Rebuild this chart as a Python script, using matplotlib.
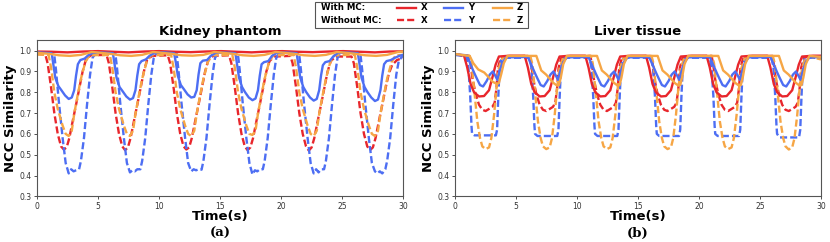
import matplotlib
matplotlib.use("Agg")
import matplotlib.pyplot as plt
from matplotlib.lines import Line2D
from matplotlib.patches import Rectangle

# ---------------- data: Kidney phantom ----------------
kid_x_mc_t = [0, 1.2, 2.5, 3.8, 5.0, 6.2, 7.5, 8.8, 10.0, 11.3, 12.6, 13.8, 15.1, 16.3, 17.6, 18.9,
              20.1, 21.3, 22.6, 23.9, 25.1, 26.4, 27.7, 28.9, 30.0]
kid_x_mc_y = [0.996, 0.995, 0.992, 0.996, 0.998, 0.995, 0.992, 0.996, 0.998, 0.995, 0.993, 0.996, 0.998,
              0.995, 0.992, 0.996, 0.998, 0.995, 0.993, 0.996, 0.998, 0.995, 0.992, 0.996, 0.997]

kid_z_mc_t = [0, 1.0, 1.8, 2.7, 3.6, 4.5,
              6.02, 6.82, 7.72, 8.62, 9.52,
              11.04, 11.84, 12.74, 13.64, 14.54,
              16.06, 16.86, 17.76, 18.66, 19.56,
              21.08, 21.88, 22.78, 23.68, 24.58,
              26.10, 26.90, 27.80, 28.70, 29.60, 30.0]
kid_z_mc_y = [0.99, 0.985, 0.978, 0.975, 0.98, 0.994,
              0.985, 0.978, 0.975, 0.98, 0.994,
              0.985, 0.978, 0.976, 0.98, 0.994,
              0.985, 0.978, 0.975, 0.98, 0.994,
              0.985, 0.978, 0.975, 0.98, 0.994,
              0.985, 0.978, 0.975, 0.98, 0.994, 0.996]

kid_y_mc_t = [0, 0.6, 1.2, 1.35, 1.5, 1.75, 2.0, 2.3, 2.6, 2.85, 3.05, 3.2, 3.35, 3.55, 3.9, 4.2, 4.6, 5.4,
              6.22, 6.37, 6.52, 6.77, 7.02, 7.32, 7.62, 7.87, 8.07, 8.22, 8.37, 8.57, 8.92, 9.22, 9.62, 10.42,
              11.24, 11.39, 11.54, 11.79, 12.04, 12.34, 12.64, 12.89, 13.09, 13.24, 13.39, 13.59, 13.94, 14.24, 14.64, 15.44,
              16.26, 16.41, 16.56, 16.81, 17.06, 17.36, 17.66, 17.91, 18.11, 18.26, 18.41, 18.61, 18.96, 19.26, 19.66, 20.46,
              21.28, 21.43, 21.58, 21.83, 22.08, 22.38, 22.68, 22.93, 23.13, 23.28, 23.43, 23.63, 23.98, 24.28, 24.68, 25.48,
              26.30, 26.45, 26.60, 26.85, 27.10, 27.40, 27.70, 27.95, 28.15, 28.30, 28.45, 28.65, 29.00, 29.30, 29.70, 30.0]
kid_y_mc_y = [0.992, 0.99, 0.988, 0.93, 0.87, 0.83, 0.81, 0.785, 0.768, 0.775, 0.81, 0.88, 0.935, 0.955, 0.962, 0.978, 0.99, 0.991,
              0.988, 0.93, 0.87, 0.825, 0.805, 0.78, 0.765, 0.772, 0.81, 0.88, 0.935, 0.95, 0.958, 0.975, 0.99, 0.992,
              0.988, 0.94, 0.88, 0.835, 0.815, 0.79, 0.775, 0.778, 0.81, 0.885, 0.94, 0.952, 0.955, 0.975, 0.99, 0.991,
              0.988, 0.93, 0.87, 0.825, 0.80, 0.775, 0.762, 0.77, 0.81, 0.88, 0.935, 0.945, 0.95, 0.975, 0.99, 0.991,
              0.988, 0.93, 0.87, 0.825, 0.80, 0.775, 0.76, 0.768, 0.81, 0.88, 0.93, 0.945, 0.95, 0.972, 0.99, 0.991,
              0.988, 0.93, 0.87, 0.825, 0.80, 0.775, 0.758, 0.765, 0.81, 0.88, 0.935, 0.95, 0.955, 0.965, 0.975, 0.98]

kid_x_nomc_t = [0, 0.68, 0.87, 1.15, 1.42, 1.7, 1.97, 2.2, 2.43, 2.65, 2.92, 3.2, 3.47, 3.74, 4.0, 4.4,
                5.70, 5.89, 6.17, 6.44, 6.72, 6.99, 7.22, 7.45, 7.67, 7.94, 8.22, 8.49, 8.76, 9.02, 9.42,
                10.72, 10.91, 11.19, 11.46, 11.74, 12.01, 12.24, 12.47, 12.69, 12.96, 13.24, 13.51, 13.78, 14.04, 14.44,
                15.74, 15.93, 16.21, 16.48, 16.76, 17.03, 17.26, 17.49, 17.71, 17.98, 18.26, 18.53, 18.80, 19.06, 19.46,
                20.76, 20.95, 21.23, 21.50, 21.78, 22.05, 22.28, 22.51, 22.73, 23.00, 23.28, 23.55, 23.82, 24.08, 24.48,
                25.78, 25.97, 26.25, 26.52, 26.80, 27.07, 27.30, 27.53, 27.75, 28.02, 28.30, 28.57, 28.84, 29.10, 29.50, 30.0]
kid_x_nomc_y = [0.984, 0.982, 0.94, 0.825, 0.70, 0.60, 0.54, 0.525, 0.535, 0.58, 0.66, 0.74, 0.82, 0.90, 0.955, 0.978,
                0.98, 0.94, 0.825, 0.70, 0.60, 0.54, 0.522, 0.535, 0.58, 0.66, 0.74, 0.82, 0.90, 0.955, 0.975,
                0.978, 0.94, 0.825, 0.70, 0.60, 0.54, 0.525, 0.535, 0.58, 0.66, 0.74, 0.82, 0.90, 0.955, 0.975,
                0.978, 0.94, 0.825, 0.70, 0.60, 0.54, 0.522, 0.535, 0.58, 0.66, 0.74, 0.82, 0.90, 0.95, 0.972,
                0.975, 0.94, 0.825, 0.70, 0.60, 0.54, 0.52, 0.535, 0.58, 0.66, 0.74, 0.82, 0.90, 0.95, 0.972,
                0.972, 0.94, 0.825, 0.70, 0.60, 0.54, 0.522, 0.535, 0.58, 0.66, 0.74, 0.82, 0.89, 0.93, 0.955, 0.965]

kid_y_nomc_t = [0, 0.7, 1.4, 1.55, 1.8, 2.1, 2.35, 2.6, 2.8, 3.0, 3.2, 3.45, 3.6, 3.85, 4.1, 4.35, 4.55, 4.8,
                6.42, 6.57, 6.82, 7.12, 7.37, 7.62, 7.82, 8.02, 8.22, 8.47, 8.62, 8.87, 9.12, 9.37, 9.57, 9.82,
                11.44, 11.59, 11.84, 12.14, 12.39, 12.64, 12.84, 13.04, 13.24, 13.49, 13.64, 13.89, 14.14, 14.39, 14.59, 14.84,
                16.46, 16.61, 16.86, 17.16, 17.41, 17.66, 17.86, 18.06, 18.26, 18.51, 18.66, 18.91, 19.16, 19.41, 19.61, 19.86,
                21.48, 21.63, 21.88, 22.18, 22.43, 22.68, 22.88, 23.08, 23.28, 23.53, 23.68, 23.93, 24.18, 24.43, 24.63, 24.88,
                26.50, 26.65, 26.90, 27.20, 27.45, 27.70, 27.90, 28.10, 28.30, 28.55, 28.70, 28.95, 29.20, 29.45, 29.65, 29.90, 30.0]
kid_y_nomc_y = [0.99, 0.99, 0.988, 0.91, 0.75, 0.58, 0.46, 0.41, 0.43, 0.42, 0.425, 0.43, 0.47, 0.58, 0.74, 0.885, 0.965, 0.99,
                0.988, 0.91, 0.75, 0.58, 0.46, 0.415, 0.425, 0.42, 0.43, 0.43, 0.47, 0.58, 0.74, 0.885, 0.965, 0.99,
                0.988, 0.91, 0.75, 0.58, 0.46, 0.42, 0.43, 0.425, 0.43, 0.428, 0.47, 0.58, 0.74, 0.885, 0.965, 0.99,
                0.988, 0.91, 0.75, 0.58, 0.46, 0.405, 0.425, 0.42, 0.43, 0.43, 0.47, 0.58, 0.74, 0.885, 0.965, 0.99,
                0.988, 0.91, 0.75, 0.58, 0.46, 0.41, 0.43, 0.415, 0.43, 0.43, 0.47, 0.58, 0.74, 0.885, 0.965, 0.99,
                0.988, 0.91, 0.75, 0.58, 0.46, 0.42, 0.41, 0.42, 0.41, 0.43, 0.47, 0.58, 0.74, 0.885, 0.95, 0.97, 0.975]

kid_z_nomc_t = [0, 0.95, 1.15, 1.42, 1.7, 2.1, 2.35, 2.6, 2.85, 3.06, 3.33, 3.6, 3.96, 4.3,
                5.97, 6.17, 6.44, 6.72, 7.12, 7.37, 7.62, 7.87, 8.08, 8.35, 8.62, 8.98, 9.32,
                10.99, 11.19, 11.46, 11.74, 12.14, 12.39, 12.64, 12.89, 13.10, 13.37, 13.64, 14.00, 14.34,
                16.01, 16.21, 16.48, 16.76, 17.16, 17.41, 17.66, 17.91, 18.12, 18.39, 18.66, 19.02, 19.36,
                21.03, 21.23, 21.50, 21.78, 22.18, 22.43, 22.68, 22.93, 23.14, 23.41, 23.68, 24.04, 24.38,
                26.05, 26.25, 26.52, 26.80, 27.20, 27.45, 27.70, 27.95, 28.16, 28.43, 28.70, 29.06, 29.40, 30.0]
kid_z_nomc_y = [0.982, 0.98, 0.92, 0.80, 0.72, 0.64, 0.60, 0.59, 0.615, 0.70, 0.785, 0.865, 0.945, 0.978,
                0.98, 0.92, 0.80, 0.72, 0.64, 0.60, 0.59, 0.615, 0.70, 0.785, 0.865, 0.945, 0.978,
                0.98, 0.92, 0.80, 0.72, 0.64, 0.60, 0.59, 0.615, 0.70, 0.785, 0.865, 0.945, 0.978,
                0.98, 0.92, 0.80, 0.72, 0.64, 0.60, 0.595, 0.615, 0.70, 0.785, 0.865, 0.945, 0.978,
                0.98, 0.92, 0.80, 0.72, 0.64, 0.60, 0.59, 0.615, 0.70, 0.785, 0.865, 0.945, 0.978,
                0.98, 0.92, 0.80, 0.72, 0.64, 0.60, 0.59, 0.615, 0.70, 0.785, 0.865, 0.945, 0.978, 0.98]

# ---------------- data: Liver tissue ----------------
liv_x_mc_t = [0, 0.74, 1.0, 1.28, 1.56, 1.97, 2.38, 2.79, 3.06, 3.33, 3.6, 4.5,
              5.71, 5.97, 6.25, 6.53, 6.94, 7.35, 7.76, 8.03, 8.30, 8.57, 9.47,
              10.68, 10.94, 11.22, 11.50, 11.91, 12.32, 12.73, 13.00, 13.27, 13.54, 14.44,
              15.65, 15.91, 16.19, 16.47, 16.88, 17.29, 17.70, 17.97, 18.24, 18.51, 19.41,
              20.62, 20.88, 21.16, 21.44, 21.85, 22.26, 22.67, 22.94, 23.21, 23.48, 24.38,
              25.59, 25.85, 26.13, 26.41, 26.82, 27.23, 27.64, 27.91, 28.18, 28.45, 29.35, 30.0]
liv_x_mc_y = [0.984, 0.976, 0.92, 0.84, 0.80, 0.78, 0.782, 0.81, 0.87, 0.933, 0.972, 0.976,
              0.976, 0.92, 0.84, 0.80, 0.78, 0.782, 0.81, 0.87, 0.933, 0.972, 0.976,
              0.976, 0.92, 0.84, 0.80, 0.78, 0.782, 0.81, 0.87, 0.933, 0.972, 0.976,
              0.976, 0.92, 0.84, 0.80, 0.78, 0.782, 0.81, 0.87, 0.933, 0.972, 0.976,
              0.976, 0.92, 0.84, 0.80, 0.78, 0.782, 0.81, 0.87, 0.933, 0.972, 0.976,
              0.976, 0.92, 0.84, 0.80, 0.78, 0.782, 0.81, 0.87, 0.933, 0.972, 0.976, 0.976]

liv_x_nomc_t = [0, 1.15, 1.28, 1.42, 1.7, 1.97, 2.24, 2.51, 2.79, 3.06, 3.25, 3.4, 3.52, 3.74, 4.0,
                6.12, 6.25, 6.39, 6.67, 6.94, 7.21, 7.48, 7.76, 8.03, 8.22, 8.37, 8.49, 8.71, 8.97,
                11.09, 11.22, 11.36, 11.64, 11.91, 12.18, 12.45, 12.73, 13.00, 13.19, 13.34, 13.46, 13.68, 13.94,
                16.06, 16.19, 16.33, 16.61, 16.88, 17.15, 17.42, 17.70, 17.97, 18.16, 18.31, 18.43, 18.65, 18.91,
                21.03, 21.16, 21.30, 21.58, 21.85, 22.12, 22.39, 22.67, 22.94, 23.13, 23.28, 23.40, 23.62, 23.88,
                26.00, 26.13, 26.27, 26.55, 26.82, 27.09, 27.36, 27.64, 27.91, 28.10, 28.25, 28.37, 28.59, 28.85, 30.0]
liv_x_nomc_y = [0.982, 0.975, 0.937, 0.87, 0.79, 0.74, 0.716, 0.71, 0.72, 0.73, 0.75, 0.82, 0.917, 0.965, 0.97,
                0.975, 0.937, 0.87, 0.79, 0.74, 0.716, 0.71, 0.72, 0.73, 0.75, 0.82, 0.917, 0.965, 0.97,
                0.975, 0.937, 0.87, 0.79, 0.74, 0.716, 0.71, 0.72, 0.73, 0.75, 0.82, 0.917, 0.965, 0.97,
                0.975, 0.937, 0.87, 0.79, 0.74, 0.716, 0.71, 0.72, 0.73, 0.75, 0.82, 0.917, 0.965, 0.97,
                0.975, 0.937, 0.87, 0.79, 0.74, 0.716, 0.71, 0.72, 0.73, 0.75, 0.82, 0.917, 0.965, 0.97,
                0.975, 0.937, 0.87, 0.79, 0.74, 0.716, 0.71, 0.72, 0.73, 0.75, 0.82, 0.917, 0.965, 0.97, 0.97]

liv_y_mc_t = [0, 1.0, 1.3, 1.6, 1.8, 2.05, 2.3, 2.6, 2.85, 3.1, 3.3, 3.47, 3.65, 3.9, 4.2,
              5.97, 6.27, 6.57, 6.77, 7.02, 7.27, 7.57, 7.82, 8.07, 8.27, 8.44, 8.62, 8.87, 9.17,
              10.94, 11.24, 11.54, 11.74, 11.99, 12.24, 12.54, 12.79, 13.04, 13.24, 13.41, 13.59, 13.84, 14.14,
              15.91, 16.21, 16.51, 16.71, 16.96, 17.21, 17.51, 17.76, 18.01, 18.21, 18.38, 18.56, 18.81, 19.11,
              20.88, 21.18, 21.48, 21.68, 21.93, 22.18, 22.48, 22.73, 22.98, 23.18, 23.35, 23.53, 23.78, 24.08,
              25.85, 26.15, 26.45, 26.65, 26.90, 27.15, 27.45, 27.70, 27.95, 28.15, 28.32, 28.50, 28.75, 29.05, 30.0]
liv_y_mc_y = [0.982, 0.978, 0.93, 0.89, 0.865, 0.835, 0.828, 0.855, 0.885, 0.90, 0.88, 0.86, 0.90, 0.945, 0.968,
              0.97, 0.93, 0.89, 0.865, 0.835, 0.828, 0.855, 0.885, 0.90, 0.88, 0.86, 0.90, 0.945, 0.968,
              0.97, 0.93, 0.89, 0.865, 0.835, 0.828, 0.855, 0.885, 0.90, 0.88, 0.86, 0.90, 0.945, 0.968,
              0.97, 0.93, 0.89, 0.865, 0.835, 0.828, 0.855, 0.885, 0.90, 0.88, 0.86, 0.90, 0.945, 0.968,
              0.97, 0.93, 0.89, 0.865, 0.835, 0.828, 0.855, 0.885, 0.90, 0.88, 0.86, 0.90, 0.945, 0.968,
              0.97, 0.93, 0.89, 0.865, 0.835, 0.828, 0.855, 0.885, 0.90, 0.88, 0.86, 0.90, 0.945, 0.968, 0.97]

liv_y_nomc_t = [0, 0.95, 1.1, 1.25, 1.35, 1.4, 1.6, 3.35, 3.45, 3.55, 3.65, 3.8, 4.05,
                6.11, 6.26, 6.41, 6.51, 6.56, 6.76, 8.38, 8.48, 8.58, 8.68, 8.83, 9.08,
                11.03, 11.18, 11.33, 11.43, 11.48, 11.68, 13.30, 13.40, 13.50, 13.60, 13.75, 14.00,
                16.09, 16.24, 16.39, 16.49, 16.54, 16.74, 18.36, 18.46, 18.56, 18.66, 18.81, 19.06,
                20.88, 21.03, 21.18, 21.28, 21.33, 21.53, 23.28, 23.38, 23.48, 23.58, 23.73, 23.98,
                25.95, 26.10, 26.25, 26.35, 26.40, 26.60, 28.20, 28.30, 28.40, 28.50, 28.65, 28.90, 30.0]
liv_y_nomc_y = [0.98, 0.972, 0.92, 0.78, 0.64, 0.60, 0.593, 0.593, 0.62, 0.78, 0.91, 0.96, 0.966,
                0.966, 0.92, 0.78, 0.64, 0.60, 0.59, 0.59, 0.62, 0.78, 0.91, 0.96, 0.966,
                0.966, 0.92, 0.78, 0.64, 0.60, 0.59, 0.59, 0.62, 0.78, 0.91, 0.96, 0.966,
                0.966, 0.92, 0.78, 0.64, 0.60, 0.59, 0.59, 0.62, 0.78, 0.91, 0.96, 0.966,
                0.966, 0.92, 0.78, 0.64, 0.60, 0.59, 0.59, 0.62, 0.78, 0.91, 0.96, 0.966,
                0.966, 0.92, 0.78, 0.64, 0.60, 0.583, 0.583, 0.62, 0.78, 0.91, 0.96, 0.966, 0.966]

liv_z_mc_t = [0, 1.2, 1.5, 1.9, 2.4, 2.8, 3.1, 3.45, 3.6, 3.8, 4.0, 4.3,
              6.67, 6.87, 7.07, 7.27, 7.47, 7.77, 8.07, 8.37, 8.52, 8.67, 8.87, 9.17,
              11.64, 11.84, 12.04, 12.24, 12.44, 12.74, 13.04, 13.34, 13.49, 13.64, 13.84, 14.14,
              16.61, 16.81, 17.01, 17.21, 17.41, 17.71, 18.01, 18.31, 18.46, 18.61, 18.81, 19.11,
              21.58, 21.78, 21.98, 22.18, 22.38, 22.68, 22.98, 23.28, 23.43, 23.58, 23.78, 24.08,
              26.55, 26.75, 26.95, 27.15, 27.35, 27.65, 27.95, 28.25, 28.40, 28.55, 28.75, 29.05, 30.0]
liv_z_mc_y = [0.984, 0.975, 0.94, 0.91, 0.895, 0.87, 0.85, 0.84, 0.845, 0.89, 0.94, 0.975,
              0.975, 0.94, 0.905, 0.895, 0.885, 0.865, 0.845, 0.832, 0.835, 0.87, 0.935, 0.975,
              0.975, 0.94, 0.905, 0.895, 0.885, 0.865, 0.845, 0.832, 0.835, 0.87, 0.935, 0.975,
              0.975, 0.94, 0.905, 0.895, 0.885, 0.865, 0.845, 0.832, 0.835, 0.87, 0.935, 0.975,
              0.975, 0.94, 0.905, 0.895, 0.885, 0.865, 0.845, 0.832, 0.835, 0.87, 0.935, 0.975,
              0.975, 0.94, 0.905, 0.895, 0.885, 0.865, 0.845, 0.832, 0.835, 0.87, 0.935, 0.975, 0.97]

liv_z_nomc_t = [0, 1.2, 1.35, 1.56, 1.83, 2.05, 2.24, 2.51, 2.79, 2.98, 3.2, 3.4, 3.6, 3.88, 4.2,
                6.17, 6.32, 6.53, 6.80, 7.02, 7.21, 7.48, 7.76, 7.95, 8.17, 8.37, 8.57, 8.85, 9.17,
                11.14, 11.29, 11.50, 11.77, 11.99, 12.18, 12.45, 12.73, 12.92, 13.14, 13.34, 13.54, 13.82, 14.14,
                16.11, 16.26, 16.47, 16.74, 16.96, 17.15, 17.42, 17.70, 17.89, 18.11, 18.31, 18.51, 18.79, 19.11,
                21.08, 21.23, 21.44, 21.71, 21.93, 22.12, 22.39, 22.67, 22.86, 23.08, 23.28, 23.48, 23.76, 24.08,
                26.05, 26.20, 26.41, 26.68, 26.90, 27.09, 27.36, 27.64, 27.83, 28.05, 28.25, 28.45, 28.73, 29.05, 30.0]
liv_z_nomc_y = [0.982, 0.975, 0.94, 0.82, 0.66, 0.58, 0.54, 0.527, 0.535, 0.58, 0.69, 0.82, 0.917, 0.965, 0.972,
                0.975, 0.94, 0.82, 0.66, 0.58, 0.54, 0.527, 0.535, 0.58, 0.69, 0.82, 0.917, 0.965, 0.972,
                0.975, 0.94, 0.82, 0.66, 0.58, 0.54, 0.527, 0.535, 0.58, 0.69, 0.82, 0.917, 0.965, 0.972,
                0.975, 0.94, 0.82, 0.66, 0.58, 0.54, 0.527, 0.535, 0.58, 0.69, 0.82, 0.917, 0.965, 0.972,
                0.975, 0.94, 0.82, 0.66, 0.58, 0.54, 0.527, 0.535, 0.58, 0.69, 0.82, 0.917, 0.965, 0.972,
                0.975, 0.94, 0.82, 0.66, 0.58, 0.54, 0.525, 0.535, 0.58, 0.69, 0.82, 0.917, 0.965, 0.972, 0.958]

titles = ["Kidney phantom", "Liver tissue"]
panel_tags = ["(a)", "(b)"]
x_ticks = [0, 5, 10, 15, 20, 25, 30]
y_ticks = [0.3, 0.4, 0.5, 0.6, 0.7, 0.8, 0.9, 1.0]
axis_labels = ["With MC:", "Without MC:"]
series_names = ["X", "Y", "Z"]

RED = "#e8262c"
BLUE = "#4d6ef3"
ORANGE = "#f6a645"
LW = 1.7
DASH = (3.0, 1.3)

fig = plt.figure(figsize=(8.3, 2.42), dpi=100)
W, H = 830.0, 242.0
ax_a = fig.add_axes([37 / W, 1 - 196.3 / H, 366 / W, 156 / H])
ax_b = fig.add_axes([455 / W, 1 - 196.3 / H, 366 / W, 156 / H])

panels = [
    (ax_a, [(kid_x_mc_t, kid_x_mc_y, RED), (kid_y_mc_t, kid_y_mc_y, BLUE), (kid_z_mc_t, kid_z_mc_y, ORANGE)],
           [(kid_x_nomc_t, kid_x_nomc_y, RED), (kid_y_nomc_t, kid_y_nomc_y, BLUE), (kid_z_nomc_t, kid_z_nomc_y, ORANGE)]),
    (ax_b, [(liv_x_mc_t, liv_x_mc_y, RED), (liv_y_mc_t, liv_y_mc_y, BLUE), (liv_z_mc_t, liv_z_mc_y, ORANGE)],
           [(liv_x_nomc_t, liv_x_nomc_y, RED), (liv_y_nomc_t, liv_y_nomc_y, BLUE), (liv_z_nomc_t, liv_z_nomc_y, ORANGE)]),
]

for i, (ax, solid, dashed) in enumerate(panels):
    for t, y, c in dashed:
        ax.plot(t, y, color=c, lw=LW, ls=(0, DASH), solid_joinstyle="round")
    for t, y, c in solid:
        ax.plot(t, y, color=c, lw=LW, ls="-", solid_joinstyle="round")
    ax.set_xlim(0, 30)
    ax.set_ylim(0.3, 1.05)
    ax.set_xticks(x_ticks)
    ax.set_yticks(y_ticks)
    ax.set_yticklabels([f"{v:.1f}" for v in y_ticks])
    ax.tick_params(labelsize=5.5, length=2.5, width=0.6, pad=1.5, colors="#333333")
    for s in ax.spines.values():
        s.set_linewidth(0.8)
        s.set_color("#555555")
    ax.set_title(titles[i], fontsize=9.5, fontweight="bold", pad=3.5)
    ax.set_xlabel("Time(s)", fontsize=9.5, fontweight="bold", labelpad=-0.5)
    ax.set_ylabel("NCC Similarity", fontsize=9.5, fontweight="bold", labelpad=2)
    bb = ax.get_position()
    fig.text(bb.x0 + bb.width / 2, 1 - 233 / H, panel_tags[i], ha="center", va="center",
             fontsize=9.5, fontweight="bold", family="DejaVu Serif")

# ---------------- manual legend (top centre) ----------------
fig.patches.append(Rectangle((315 / W, 1 - 27.5 / H), 213 / W, 26 / H, transform=fig.transFigure,
                             facecolor="white", edgecolor="#555555", lw=0.8))
rows_y = [7.5, 20.3]
for r, lab in enumerate(axis_labels):
    yy = 1 - rows_y[r] / H
    fig.text(321 / W, yy, lab, ha="left", va="center", fontsize=6.2, fontweight="bold")
    for c, (col, name, x0) in enumerate(zip([RED, BLUE, ORANGE], series_names, [397, 444, 493])):
        ls = "-" if r == 0 else (0, DASH)
        fig.lines.append(Line2D([x0 / W, (x0 + 19) / W], [yy, yy], transform=fig.transFigure,
                                color=col, lw=LW, ls=ls))
        fig.text((x0 + 24) / W, yy, name, ha="left", va="center", fontsize=6.2, fontweight="bold")

fig.savefig("out.png", dpi=100)
